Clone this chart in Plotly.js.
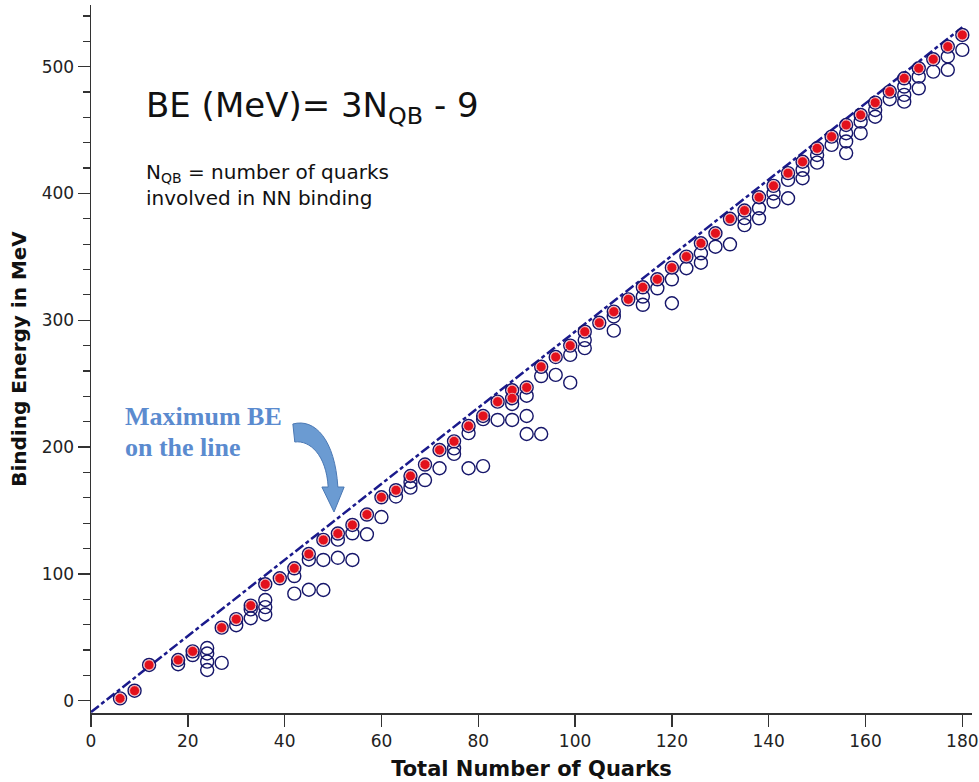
<!DOCTYPE html>
<html>
<head>
<meta charset="utf-8">
<script src="https://cdn.plot.ly/plotly-3.0.1.min.js"></script>
<style>html,body{margin:0;padding:0;background:#fff;}#chart{width:979px;height:782px;}</style>
</head>
<body>
<div id="chart"></div>
<script>
// Maximum binding energy per quark count (red markers)
const maxX = [6, 9, 12, 18, 21, 27, 30, 33, 36, 39, 42, 45, 48, 51, 54, 57, 60, 63, 66, 69, 72, 75, 78, 81, 84, 87, 87, 90, 93, 96, 99, 102, 105, 108, 111, 114, 117, 120, 123, 126, 129, 132, 135, 138, 141, 144, 147, 150, 153, 156, 159, 162, 165, 168, 171, 174, 177, 180];
const maxBE = [1.8, 7.9, 28.2, 32.1, 38.9, 57.6, 64.3, 75.0, 91.8, 96.5, 104.4, 115.7, 126.8, 131.8, 138.6, 146.8, 160.4, 166.0, 177.2, 186.2, 197.7, 204.5, 216.6, 224.5, 235.8, 244.8, 238.5, 247.0, 263.3, 271.0, 280.0, 291.0, 298.0, 306.8, 316.5, 326.0, 332.3, 341.5, 350.2, 360.7, 368.6, 380.0, 386.5, 397.0, 406.0, 416.0, 425.0, 435.6, 444.8, 454.0, 461.9, 471.6, 480.3, 490.8, 498.7, 505.8, 515.8, 525.0];

// Other isobars (open circles)
const otherX = [18, 21, 24, 24, 24, 24, 27, 30, 33, 33, 36, 36, 36, 42, 42, 45, 45, 48, 48, 51, 51, 54, 54, 57, 60, 63, 66, 66, 69, 72, 75, 75, 78, 78, 81, 81, 84, 87, 87, 90, 90, 90, 93, 93, 96, 99, 99, 102, 102, 108, 108, 114, 114, 117, 120, 120, 123, 126, 126, 129, 132, 135, 135, 138, 138, 141, 141, 144, 144, 147, 147, 150, 150, 153, 156, 156, 156, 159, 159, 162, 162, 165, 168, 168, 168, 171, 171, 174, 177, 177, 180];
const otherBE = [28.8, 36.0, 41.5, 37.2, 30.8, 24.2, 29.8, 59.5, 72.0, 65.0, 79.4, 73.8, 68.0, 98.3, 84.4, 111.2, 87.5, 111.0, 87.3, 127.0, 112.7, 132.0, 111.0, 131.2, 144.8, 161.0, 172.5, 168.0, 174.0, 183.3, 199.0, 194.6, 211.0, 183.3, 222.0, 185.0, 221.4, 234.0, 221.4, 240.5, 224.5, 210.3, 256.0, 210.3, 256.9, 272.7, 250.8, 284.4, 278.0, 303.0, 291.8, 318.7, 312.2, 325.2, 332.3, 313.4, 341.0, 352.8, 345.4, 358.0, 359.9, 380.5, 375.0, 388.3, 380.4, 400.0, 393.6, 410.7, 396.2, 418.6, 412.0, 430.3, 424.3, 438.3, 447.5, 441.0, 431.8, 456.6, 447.5, 465.8, 460.5, 474.3, 484.3, 477.7, 472.4, 492.1, 482.9, 496.1, 508.0, 497.5, 513.2];

// Fit line BE = 3 N_QB - 9
const lineX = [0, 180];
const lineBE = [-9, 531];

const xTicks = [0, 20, 40, 60, 80, 100, 120, 140, 160, 180];
const yTicks = [0, 100, 200, 300, 400, 500];

const navy = '#16166a';
const fontFam = 'DejaVu Sans, Verdana, sans-serif';

const traces = [
  {
    x: lineX, y: lineBE, mode: 'lines', type: 'scatter', hoverinfo: 'skip',
    line: {color: '#1a1a8c', width: 2.5, dash: '10px,3px,4px,3px'}
  },
  {
    x: otherX, y: otherBE, mode: 'markers', type: 'scatter',
    marker: {symbol: 'circle-open', size: 13, color: navy, line: {width: 1.4, color: navy}}
  },
  {
    x: maxX, y: maxBE, mode: 'markers', type: 'scatter',
    marker: {symbol: 'circle-open', size: 13, color: navy, line: {width: 1.4, color: navy}}
  },
  {
    x: maxX, y: maxBE, mode: 'markers', type: 'scatter',
    marker: {symbol: 'circle', size: 10, color: '#e3111c', line: {width: 1, color: '#f2aab0'}}
  }
];

const arrowPath = 'M 41.7 218.2 C 46.3 223.0 50.4 205.6 51.0 168.5 L 52.3 168.5 L 50.2 148.8 L 47.7 168.5 L 49.0 168.5 C 48.6 193.8 45.2 205.6 42.1 204.0 Z';

const layout = {
  width: 979, height: 782,
  margin: {l: 91, r: 7, t: 5, b: 69},
  paper_bgcolor: '#ffffff', plot_bgcolor: '#ffffff',
  showlegend: false,
  font: {family: fontFam, color: '#222'},
  xaxis: {
    range: [0, 182], tickvals: xTicks, ticktext: xTicks.map(String),
    showline: true, linecolor: '#333', linewidth: 1.5,
    ticks: 'outside', ticklen: 12, tickwidth: 1.5, tickcolor: '#333',
    showgrid: false, zeroline: false,
    tickfont: {size: 17, color: '#222', family: fontFam},
    title: {text: '<b>Total Number of Quarks</b>', font: {size: 21, color: '#111', family: fontFam}, standoff: 11}
  },
  yaxis: {
    range: [-9.7, 548.6], tickvals: yTicks, ticktext: yTicks.map(String),
    showline: true, linecolor: '#333', linewidth: 1.5,
    ticks: 'outside', ticklen: 12, tickwidth: 1.5, tickcolor: '#333',
    minor: {dtick: 20, tick0: 0, ticks: 'outside', ticklen: 7, tickwidth: 1.2, tickcolor: '#333'},
    showgrid: false, zeroline: false,
    tickfont: {size: 17, color: '#222', family: fontFam},
    title: {text: '<b>Binding Energy in MeV</b>', font: {size: 20, color: '#111', family: fontFam}, standoff: 9}
  },
  shapes: [
    {type: 'path', xref: 'x', yref: 'y', path: arrowPath,
     fillcolor: '#6b9bd2', line: {color: '#4a78b4', width: 1}}
  ],
  annotations: [
    {xref: 'x', yref: 'y', x: 11.0, y: 468, xanchor: 'left', yanchor: 'middle', showarrow: false,
     text: 'BE (MeV)= 3N<sub>QB</sub> - 9', font: {size: 34, color: '#111', family: fontFam}},
    {xref: 'x', yref: 'y', x: 11.0, y: 407, xanchor: 'left', yanchor: 'middle', showarrow: false, align: 'left',
     text: 'N<sub>QB</sub> = number of quarks<br>involved in NN binding', font: {size: 20, color: '#111', family: fontFam}},
    {xref: 'x', yref: 'y', x: 6.6, y: 224.5, xanchor: 'left', yanchor: 'middle', showarrow: false,
     text: '<b>Maximum BE</b>', font: {size: 26, color: '#5b8bcf', family: 'Liberation Serif, Times New Roman, serif'}},
    {xref: 'x', yref: 'y', x: 6.6, y: 200, xanchor: 'left', yanchor: 'middle', showarrow: false,
     text: '<b>on the line</b>', font: {size: 26, color: '#5b8bcf', family: 'Liberation Serif, Times New Roman, serif'}}
  ]
};

Plotly.newPlot('chart', traces, layout, {displayModeBar: false, staticPlot: true});
</script>
</body>
</html>
